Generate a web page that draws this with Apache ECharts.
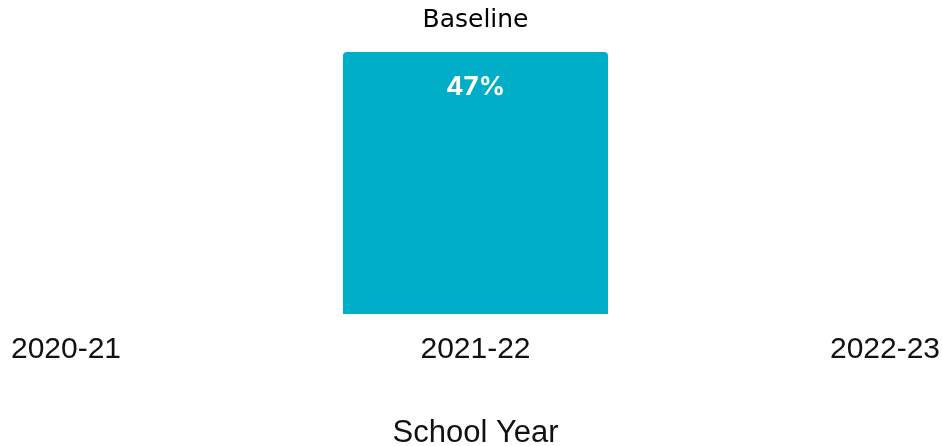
<!DOCTYPE html>
<html>
<head>
<meta charset="utf-8">
<script src="https://cdn.jsdelivr.net/npm/echarts@6/dist/echarts.min.js"></script>
<style>html,body{margin:0;padding:0;background:#fff;}#c{width:942px;height:446px;}</style>
</head>
<body>
<div id="c"></div>
<script>
const categories = ['2020-21', '2021-22', '2022-23'];
const values = [null, 47, null];
const annotations = ['', 'Baseline', ''];

const chart = echarts.init(document.getElementById('c'), null, {renderer: 'canvas'});
chart.setOption({
  animation: false,
  grid: {left: 66, right: 57, top: 52, bottom: 132, containLabel: false, outerBoundsMode: 'none'},
  xAxis: {
    type: 'category',
    data: categories,
    boundaryGap: false,
    axisLine: {show: false},
    axisTick: {show: false},
    splitLine: {show: false},
    axisLabel: {fontFamily: 'Liberation Sans, Arial, sans-serif', fontSize: 30, color: '#111', margin: 21},
    name: 'School Year',
    nameLocation: 'middle',
    nameGap: 104,
    nameTextStyle: {fontFamily: 'Liberation Sans, Arial, sans-serif', fontSize: 31, color: '#111'}
  },
  yAxis: {type: 'value', min: 0, max: 47, show: false},
  series: [
    {
      type: 'bar',
      data: values,
      barWidth: 265,
      itemStyle: {color: '#00AEC7', borderRadius: [4, 4, 0, 0]},
      label: {
        show: true, position: 'insideTop', distance: 22,
        formatter: p => p.value + '%',
        color: '#fff', fontWeight: 'bold', fontSize: 26,
        fontFamily: 'Inter, Noto Sans, sans-serif'
      }
    },
    {
      type: 'bar',
      data: values,
      barWidth: 265,
      barGap: '-100%',
      itemStyle: {color: 'rgba(0,0,0,0)'},
      label: {
        show: true, position: 'top', distance: 19,
        formatter: p => annotations[p.dataIndex],
        color: '#000', fontSize: 25,
        fontFamily: 'DejaVu Sans, sans-serif'
      },
      silent: true
    }
  ]
});
</script>
</body>
</html>
